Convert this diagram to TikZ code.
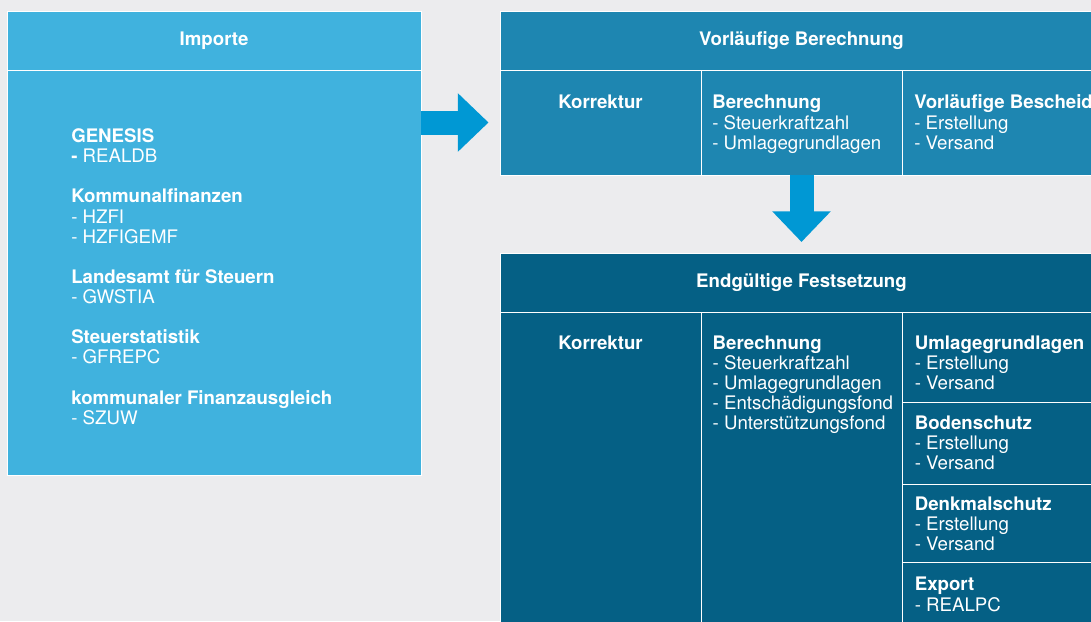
\documentclass[tikz,border=0pt]{standalone}
\usepackage{fontspec}
\setmainfont{TeX Gyre Heros}
\usetikzlibrary{positioning,arrows.meta}
\definecolor{bggrey}{RGB}{236,236,238}
\definecolor{impblue}{RGB}{64,178,222}
\definecolor{vorblue}{RGB}{30,134,177}
\definecolor{endblue}{RGB}{5,96,133}
\definecolor{flowblue}{RGB}{0,152,212}

\begin{document}
\begin{tikzpicture}[x=0.75pt, y=-0.75pt,
	every node/.style={text=white, font=\fontsize{14}{15.1}\selectfont},
	panel/.style={rectangle, draw=white, line width=0.6pt, inner sep=0pt, outer sep=0pt},
	head node/.style={panel, minimum height=44.25pt, font=\fontsize{14}{15.1}\selectfont\bfseries},
	cell node/.style={panel, minimum width=150.75pt},
	list node/.style={anchor=north west, align=left, inner sep=0pt},
	flow arrow/.style={draw=flowblue, line width=18pt, -{Triangle[length=23pt, width=42.5pt]}}]
	\useasboundingbox (0,0) rectangle (1091,621);
	\clip (0,0) rectangle (1091,621);
	\fill[bggrey] (0,0) rectangle (1091,621);

	% Importe
	\node[head node, fill=impblue, minimum width=310.5pt, anchor=north west] (ihead) at (7,11) {Importe};
	\node[panel, fill=impblue, minimum width=310.5pt, minimum height=303.75pt, below=0pt of ihead] (ibody) {};
	\node[list node, below right=43.6pt and 48pt of ibody.north west] (itxt) {\strut\textbf{GENESIS}\\\textbf{-} REALDB\\[15.1pt]
		\textbf{Kommunalfinanzen}\\- HZFI\\- HZFIGEMF\\[15.1pt]
		\textbf{Landesamt für Steuern}\\- GWSTIA\\[15.1pt]
		\textbf{Steuerstatistik}\\- GFREPC\\[15.1pt]
		\textbf{kommunaler Finanzausgleich}\\- SZUW};

	% Vorlaeufige Berechnung
	\node[head node, fill=vorblue, minimum width=452.25pt, anchor=north west] (vhead) at (500,11) {Vorläufige Berechnung};
	\node[cell node, fill=vorblue, minimum height=78.75pt, anchor=north west] (vkor) at (vhead.south west) {};
	\node[cell node, fill=vorblue, minimum height=78.75pt, right=0pt of vkor] (vber) {};
	\node[cell node, fill=vorblue, minimum height=78.75pt, right=0pt of vber] (vbes) {};
	\node[inner sep=0pt, below=18.45pt of vkor.north] (vkortxt) {\strut\textbf{Korrektur}};
	\node[list node, below right=18.45pt and 8.25pt of vber.north west] (vbertxt) {\strut\textbf{Berechnung}\\- Steuerkraftzahl\\- Umlagegrundlagen};
	\node[list node, below right=18.45pt and 9pt of vbes.north west] (vbestxt) {\strut\textbf{Vorläufige Bescheide}\\- Erstellung\\- Versand};

	% Endgueltige Festsetzung
	\node[head node, fill=endblue, minimum width=452.25pt, anchor=north west] (ehead) at (500,253) {Endgültige Festsetzung};
	\node[cell node, fill=endblue, minimum height=300pt, anchor=north west] (ekor) at (ehead.south west) {};
	\node[cell node, fill=endblue, minimum height=300pt, right=0pt of ekor] (eber) {};
	\node[cell node, fill=endblue, minimum height=68pt, anchor=north west] (eumg) at (eber.north east) {};
	\node[cell node, fill=endblue, minimum height=61pt, below=0pt of eumg] (ebod) {};
	\node[cell node, fill=endblue, minimum height=59pt, below=0pt of ebod] (edkm) {};
	\node[cell node, fill=endblue, minimum height=80pt, below=0pt of edkm] (eexp) {};
	\node[inner sep=0pt, below=17.3pt of ekor.north] (ekortxt) {\strut\textbf{Korrektur}};
	\node[list node, below right=17.3pt and 8.6pt of eber.north west] (ebertxt) {\strut\textbf{Berechnung}\\- Steuerkraftzahl\\- Umlagegrundlagen\\- Entschädigungsfond\\- Unterstützungsfond};
	\node[list node, below right=17.3pt and 9.4pt of eumg.north west] (eumgtxt) {\strut\textbf{Umlagegrundlagen}\\- Erstellung\\- Versand};
	\node[list node, below right=9.3pt and 9.4pt of ebod.north west] (ebodtxt) {\strut\textbf{Bodenschutz}\\- Erstellung\\- Versand};
	\node[list node, below right=8.9pt and 9.4pt of edkm.north west] (edkmtxt) {\strut\textbf{Denkmalschutz}\\- Erstellung\\- Versand};
	\node[list node, below right=10.4pt and 9.4pt of eexp.north west] (eexptxt) {\strut\textbf{Export}\\- REALPC};

	% flow
	\draw[flow arrow] (ibody.east |- vkor.west) -- ([xshift=-8.6pt]vkor.west);
	\draw[flow arrow] (vber.south) -- ([yshift=8.25pt]ehead.north);
\end{tikzpicture}
\end{document}
